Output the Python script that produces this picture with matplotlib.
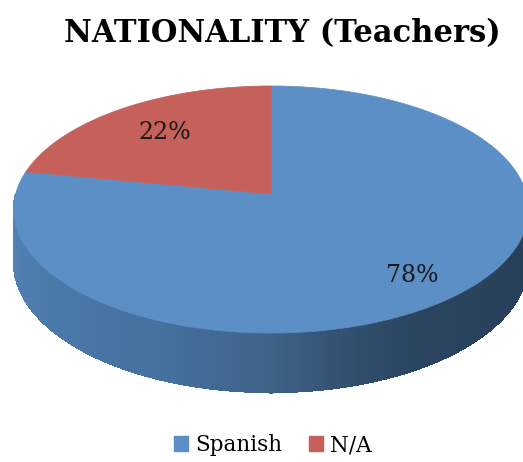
import numpy as np
import matplotlib
matplotlib.use("Agg")
import matplotlib.pyplot as plt
from matplotlib.patches import Polygon, Patch
from matplotlib.collections import PolyCollection
from matplotlib.colors import to_rgb

# data
labels = ['Spanish', 'N/A']
values = [78, 22]
colors = ['#5b8fc6', '#c6605a']
title = 'NATIONALITY (Teachers)'

# 3d pie geometry in pixel space
cx, cy = 271, 194      # apex of the pie on screen
A, B = 255.4, 121.6    # horizontal / vertical radius
k = 0.1255             # perspective factor
T0 = 52                # thickness of the pie
label_r = [0.8, 0.7]

def proj(theta, r=1.0, dz=0.0):
    t = np.radians(theta)
    d = 1 + k * r * np.sin(t)
    x = cx + A * r * np.cos(t) / d
    y = cy - B * r * np.sin(t) / d + dz / (1 + k * np.sin(t))
    return x, y

# side shading, light from the left
shade_ang = [180, 215, 250, 270, 285, 300, 360]
shade_col = ['#5585bb', '#4c7aab', '#44709d', '#3e6389', '#32506f', '#2a4560', '#263d55']
shade_rgb = np.array([to_rgb(c) for c in shade_col])

def side_color(theta):
    return np.array([np.interp(theta, shade_ang, shade_rgb[:, i]) for i in range(3)])

fig = plt.figure(figsize=(5.23, 4.62), dpi=100)
ax = fig.add_axes([0, 0, 1, 1])
ax.set_xlim(0, 523)
ax.set_ylim(462, 0)
ax.axis('off')

# wedge angles: start at 12 o'clock, go clockwise
total = float(sum(values))
starts = [90 - 360 * sum(values[:i]) / total for i in range(len(values))]
ends = [90 - 360 * sum(values[:i + 1]) / total for i in range(len(values))]

# front side (only the part facing the viewer, 180..360)
for s, e, col in zip(starts, ends, colors):
    base = np.array(to_rgb(col)) / np.array(to_rgb(colors[0]))
    for off in (0, -360, 360):
        a0 = max(e + off, 180)
        a1 = min(s + off, 360)
        if a1 <= a0:
            continue
        th = np.linspace(a0, a1, int((a1 - a0) * 2) + 2)
        xt, yt = proj(th)
        xb, yb = proj(th, dz=T0)
        # outline in a mid tone so the outer edge stays smooth
        outline = list(zip(xt, yt)) + list(zip(xb[::-1], yb[::-1]))
        ax.add_patch(Polygon(outline, closed=True,
                             facecolor=np.clip(side_color(250) * base, 0, 1),
                             edgecolor='none'))
        quads, cols = [], []
        for i in range(len(th) - 1):
            quads.append([(xt[i], yt[i]), (xt[i + 1], yt[i + 1]),
                          (xb[i + 1], yb[i + 1]), (xb[i], yb[i])])
            cols.append(np.clip(side_color((th[i] + th[i + 1]) / 2) * base, 0, 1))
        ax.add_collection(PolyCollection(quads, facecolors=cols, edgecolors=cols,
                                         linewidths=0.3, antialiaseds=False))

# top face
for s, e, col in zip(starts, ends, colors):
    th = np.linspace(s, e, 200)
    xs, ys = proj(th)
    pts = [(cx, cy)] + list(zip(xs, ys))
    ax.add_patch(Polygon(pts, closed=True, facecolor=col, edgecolor=col, lw=0.5))

# percentage labels
for s, e, v, r in zip(starts, ends, values, label_r):
    mid = (s + e) / 2
    x, y = proj(mid, r=r)
    ax.text(x, y, '%d%%' % round(100 * v / total), ha='center', va='center',
            fontsize=17, family='DejaVu Serif', color='#1a1a1a')

ax.text(282, 42, title, ha='center', va='baseline', fontsize=22,
        fontweight='bold', family='DejaVu Serif')

handles = [Patch(facecolor=c, edgecolor=c) for c in colors]
ax.legend(handles, labels, loc='center', bbox_to_anchor=(273 / 523, 1 - 445 / 462),
          ncol=2, frameon=False, prop={'family': 'DejaVu Serif', 'size': 15.5},
          handlelength=0.65, handleheight=0.65, handletextpad=0.35, columnspacing=1.2)

fig.savefig('out.png', dpi=100)
